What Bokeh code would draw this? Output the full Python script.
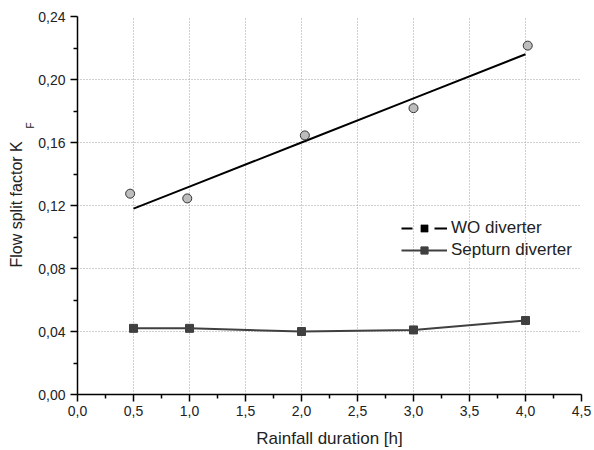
from bokeh.plotting import figure
from bokeh.models import (ColumnDataSource, Range1d, FixedTicker, CustomJSTickFormatter,
                          Legend, LegendItem, Title)
from bokeh.embed import file_html
from bokeh.resources import INLINE

# Data
wo_x = [0.47, 0.98, 2.03, 3.0, 4.02]
wo_y = [0.1275, 0.1245, 0.1645, 0.1818, 0.2215]
fit_x = [0.5, 1.0, 2.0, 3.0, 4.0]
fit_y = [0.118, 0.132, 0.160, 0.188, 0.216]
sep_x = [0.5, 1.0, 2.0, 3.0, 4.0]
sep_y = [0.042, 0.042, 0.040, 0.041, 0.047]
x_ticks = [0.0, 0.5, 1.0, 1.5, 2.0, 2.5, 3.0, 3.5, 4.0, 4.5]
y_ticks = [0.0, 0.04, 0.08, 0.12, 0.16, 0.20, 0.24]

FONT = "Liberation Sans"

p = figure(width=594, height=450, output_backend="svg", toolbar_location=None,
           x_range=Range1d(0, 4.5), y_range=Range1d(0, 0.24),
           min_border_left=77, min_border_right=13, min_border_top=16, min_border_bottom=56)
p.outline_line_color = None
p.background_fill_color = "white"
p.border_fill_color = "white"

x_minor = [0.25 + 0.5 * i for i in range(9)]
y_minor = [0.02 + 0.04 * i for i in range(6)]
p.xaxis.ticker = FixedTicker(ticks=x_ticks, minor_ticks=x_minor)
p.yaxis.ticker = FixedTicker(ticks=y_ticks, minor_ticks=y_minor)
p.xaxis.formatter = CustomJSTickFormatter(code="return tick.toFixed(1).replace('.', ',');")
p.yaxis.formatter = CustomJSTickFormatter(code="return tick.toFixed(2).replace('.', ',');")

for ax in (p.xaxis, p.yaxis):
    ax.axis_line_width = 1.5
    ax.axis_line_color = "black"
    ax.major_tick_line_width = 1.5
    ax.minor_tick_line_width = 1.5
    ax.major_tick_line_color = "black"
    ax.minor_tick_line_color = "black"
    ax.major_tick_out = 7
    ax.major_tick_in = 0
    ax.minor_tick_out = 4
    ax.minor_tick_in = 0
    ax.major_label_text_font = FONT
    ax.major_label_text_font_size = "14px"
    ax.major_label_text_color = "#222222"
    ax.axis_label_text_font = FONT
    ax.axis_label_text_font_size = "17px"
    ax.axis_label_text_font_style = "normal"
    ax.axis_label_text_color = "#222222"

p.xaxis.axis_label = "Rainfall duration [h]"
p.xaxis.axis_label_standoff = 10
p.xaxis.major_label_standoff = 4
p.yaxis.major_label_standoff = 5

for g in (p.xgrid, p.ygrid):
    g.grid_line_color = "#a0a0a0"
    g.grid_line_dash = "1 2"
    g.grid_line_width = 1

# y-axis title with subscript F, as side titles (nearest the axis first)
sub_title = Title(text="F", align="right", vertical_align="bottom", offset=106, standoff=0,
                  text_font=FONT, text_font_size="10px", text_font_style="normal",
                  text_color="#222222")
main_title = Title(text="Flow split factor K", align="left", vertical_align="bottom",
                   offset=127, standoff=0, text_font=FONT, text_font_size="16px",
                   text_font_style="normal", text_color="#222222")
try:
    main_title.standoff = -5
except Exception:
    main_title.standoff = 0
p.add_layout(sub_title, "left")
p.add_layout(main_title, "left")

fit_r = p.line(fit_x, fit_y, line_color="black", line_width=2)
p.scatter(wo_x, wo_y, marker="circle", size=9, fill_color="#bdbdbd",
          line_color="#333333", line_width=1)
sep_line = p.line(sep_x, sep_y, line_color="#404040", line_width=2)
sep_pts = p.scatter(sep_x, sep_y, marker="square", size=8, fill_color="#404040",
                    line_color="#404040")

# legend-only glyphs, placed outside the visible range
off = ColumnDataSource(data=dict(x=[-10, -9], y=[-1, -1]))
wo_leg_line = p.line("x", "y", source=off, line_color="black", line_width=2,
                     line_dash="11 22 14")
wo_dot = p.scatter("x", "y", source=off, marker="square", size=3,
                   fill_color="black", line_color="black", line_width=0.5)

legend = Legend(items=[LegendItem(label="WO diverter", renderers=[wo_leg_line, wo_dot]),
                       LegendItem(label="Septurn diverter", renderers=[sep_line, sep_pts])],
                location=(324, 134), border_line_color=None, background_fill_alpha=0,
                padding=0, margin=0, spacing=2, glyph_width=46, glyph_height=18,
                label_height=18, label_standoff=4, label_text_font=FONT,
                label_text_font_size="17px", label_text_color="#222222")
p.add_layout(legend, "center")

open("out.html", "w").write(file_html(p, INLINE))
